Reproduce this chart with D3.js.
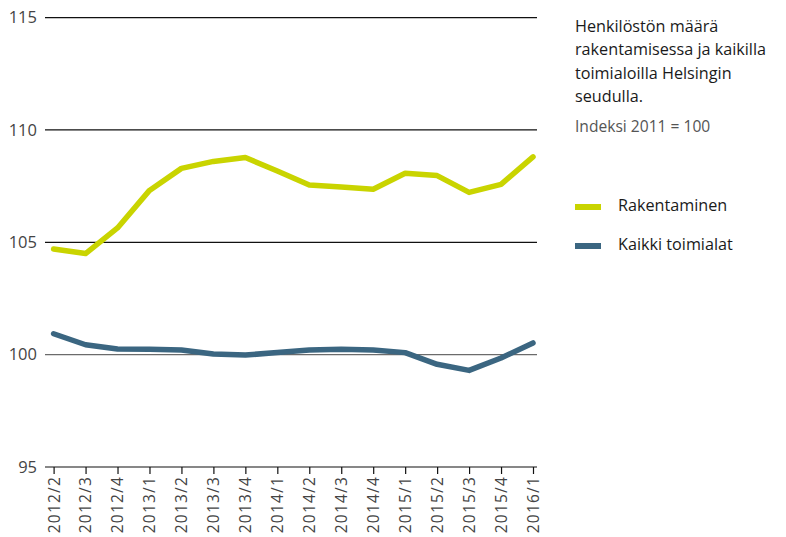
<!DOCTYPE html>
<html><head><meta charset="utf-8">
<script src="https://cdn.jsdelivr.net/npm/d3@7"></script>
<style>body{margin:0;background:#fff;}svg{display:block;font-family:"Open Sans","Noto Sans",sans-serif;}</style>
</head><body>
<svg id="c" width="786" height="537"></svg>
<script>
const categories = ["2012/2","2012/3","2012/4","2013/1","2013/2","2013/3","2013/4","2014/1","2014/2","2014/3","2014/4","2015/1","2015/2","2015/3","2015/4","2016/1"];
const rakentaminen = [104.7,104.5,105.64,107.31,108.29,108.6,108.77,108.17,107.55,107.46,107.36,108.07,107.97,107.22,107.58,108.8];
const kaikki = [100.93,100.44,100.25,100.24,100.21,100.03,99.98,100.1,100.21,100.24,100.21,100.09,99.57,99.3,99.85,100.52];
const yTicks = [95,100,105,110,115];
const seriesNames = ["Rakentaminen","Kaikki toimialat"];
const colors = ["#c9d400","#3b6681"];
const titleLines = ["Henkilöstön määrä","rakentamisessa ja kaikilla","toimialoilla Helsingin","seudulla."];
const subtitle = "Indeksi 2011 = 100";

const svg = d3.select("#c");
const x = d3.scalePoint().domain(categories).range([53.6, 533]);
const y = d3.scaleLinear().domain([95,115]).range([467, 17.6]);
const x0 = 45, x1 = 537;

svg.append("g").selectAll("line").data(yTicks.filter(d=>d>95)).join("line")
  .attr("x1",x0).attr("x2",x1).attr("y1",d=>y(d)).attr("y2",d=>y(d))
  .attr("stroke",d=>d===100?"#6b6b6b":"#111").attr("stroke-width",1.2);

svg.append("g").selectAll("text").data(yTicks).join("text")
  .attr("x",37).attr("y",d=>y(d)).attr("dy","0.35em").attr("text-anchor","end")
  .attr("font-size",16.5).attr("fill","#444").text(d=>d);

const xa = svg.append("g").attr("transform",`translate(0,${y(95)})`)
  .call(d3.axisBottom(x).tickSize(7).tickSizeOuter(0).tickPadding(4));
xa.select(".domain").attr("d",`M${x0},0H${x1}`).attr("stroke","#111").attr("stroke-width",1.2);
xa.selectAll(".tick line").attr("stroke","#111").attr("stroke-width",1.2);
xa.selectAll(".tick text").attr("font-size",15.5).attr("fill","#444").attr("letter-spacing",1.2)
  .attr("font-family","\"Open Sans\",sans-serif")
  .attr("transform","rotate(-90)").attr("text-anchor","end")
  .attr("x",-9).attr("y",0).attr("dy","0.35em");

const line = d3.line().x((d,i)=>x(categories[i])).y(d=>y(d));
[rakentaminen,kaikki].forEach((s,k)=>{
  svg.append("path").datum(s).attr("d",line).attr("fill","none")
    .attr("stroke",colors[k]).attr("stroke-width",5.5).attr("stroke-linejoin","round").attr("stroke-linecap","round");
});

const t = svg.append("text").attr("x",575).attr("font-size",16.2).attr("fill","#1a1a1a").attr("font-weight",500);
titleLines.forEach((l,i)=>t.append("tspan").attr("x",575).attr("y",32+i*23.3).text(l));
svg.append("text").attr("x",575).attr("y",132).attr("font-size",15.6).attr("fill","#555").text(subtitle);

seriesNames.forEach((n,k)=>{
  const cy = 207 + k*39;
  svg.append("rect").attr("x",575).attr("y",cy-3).attr("width",26).attr("height",6).attr("fill",colors[k]);
  svg.append("text").attr("x",618).attr("y",cy-2).attr("dy","0.35em").attr("font-size",16.2).attr("fill","#1a1a1a").text(n);
});
</script>
</body></html>
